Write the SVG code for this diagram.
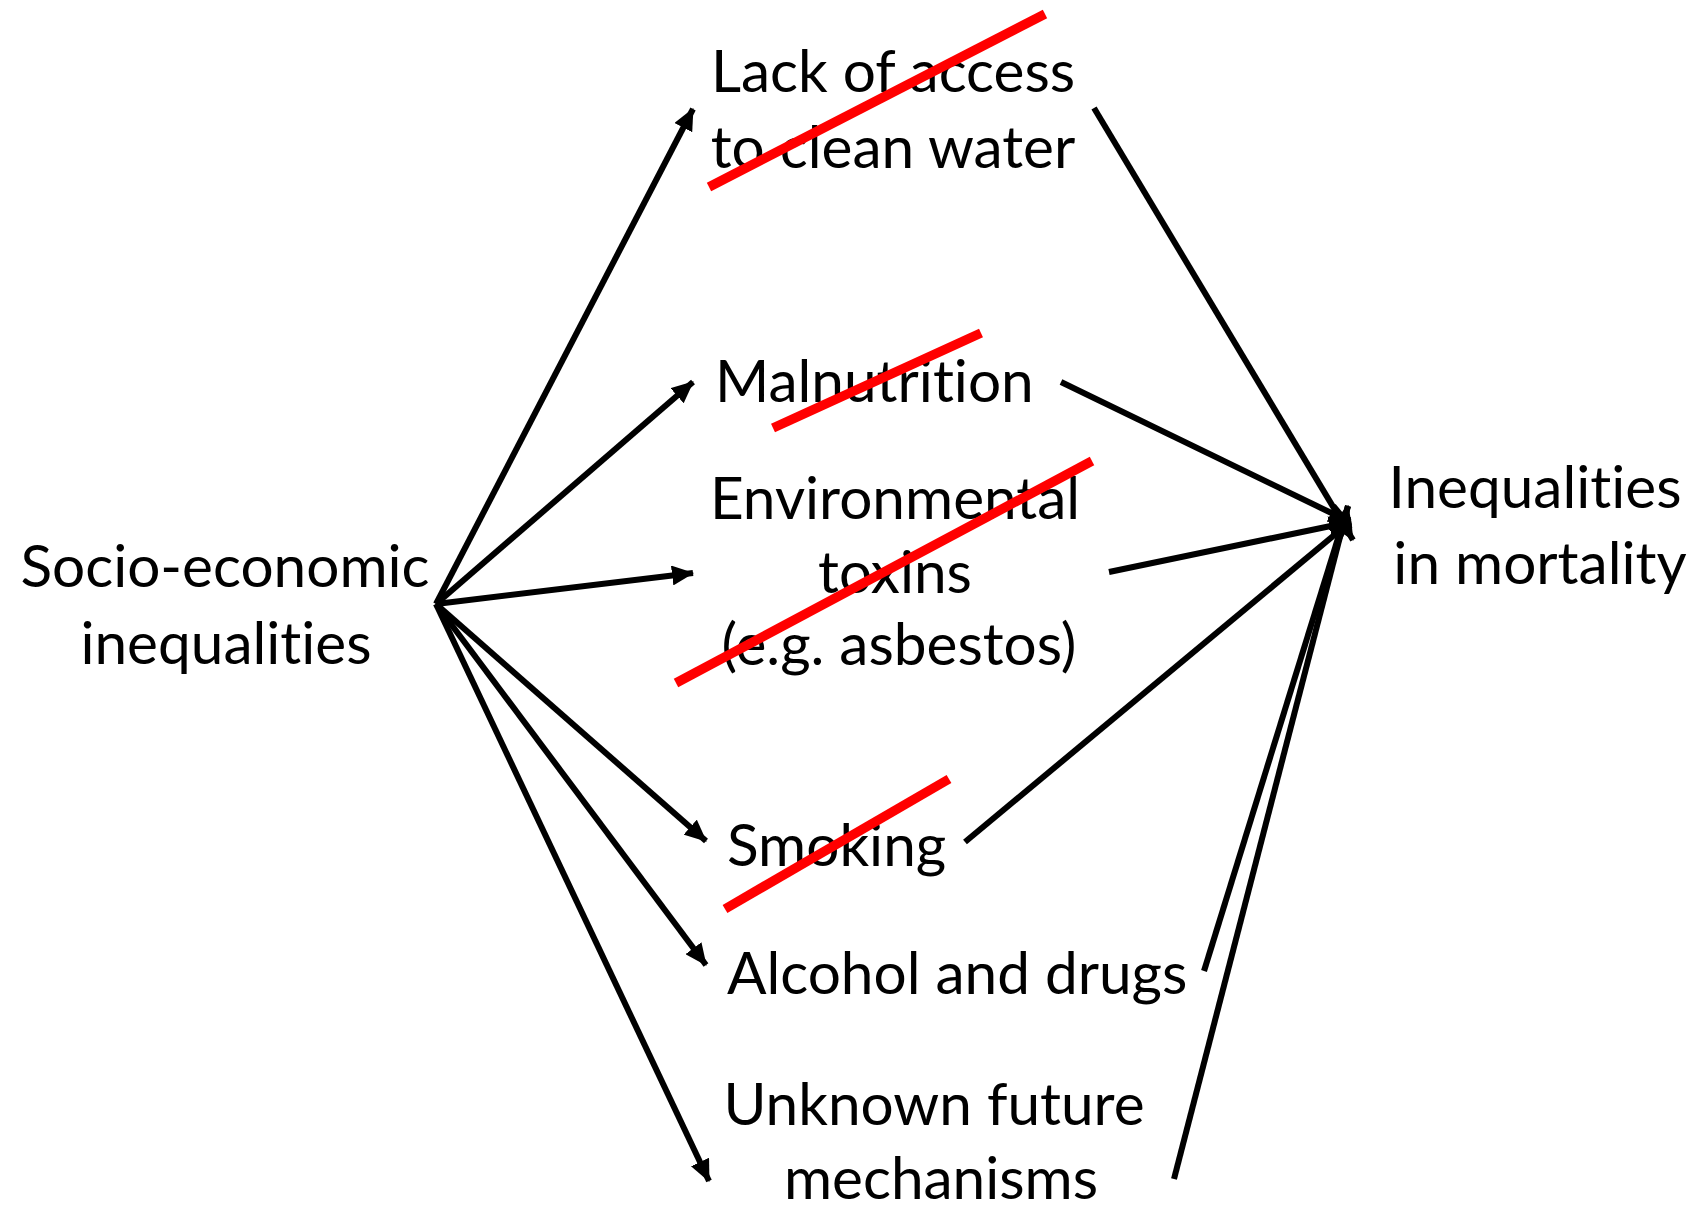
<svg xmlns="http://www.w3.org/2000/svg" width="1701" height="1209" viewBox="0 0 1701 1209">
<style>
text{font-family:Lato,"Open Sans","Liberation Sans",sans-serif;font-size:58.5px;fill:#000;font-variant-ligatures:none;font-feature-settings:"liga" 0,"clig" 0}
.c{text-anchor:middle}
.l{text-anchor:start}
.conn{stroke:#000;stroke-width:6;fill:none}
.arr{marker-end:url(#ah)}
.strike{stroke:#ff0000;stroke-width:9.5;fill:none}
</style>
<defs>
<marker id="ah" markerUnits="userSpaceOnUse" markerWidth="24" markerHeight="20" refX="21" refY="10" orient="auto">
<path d="M0,0 L22,10 L0,20 Z" fill="#000"/>
</marker>
</defs>
<rect width="1701" height="1209" fill="#fff"/>
<g id="connectors">
<line class="conn arr" x1="436" y1="604" x2="693" y2="109"/>
<line class="conn arr" x1="436" y1="604" x2="693" y2="382"/>
<line class="conn arr" x1="436" y1="604" x2="693" y2="573"/>
<line class="conn arr" x1="436" y1="604" x2="706" y2="841"/>
<line class="conn arr" x1="436" y1="604" x2="706" y2="965"/>
<line class="conn arr" x1="436" y1="604" x2="709" y2="1181"/>
<line class="conn arr" x1="1094" y1="108" x2="1353" y2="540"/>
<line class="conn arr" x1="1061" y1="382" x2="1350" y2="522"/>
<line class="conn arr" x1="1109" y1="572" x2="1350" y2="522"/>
<line class="conn arr" x1="965" y1="842" x2="1350" y2="522"/>
<line class="conn arr" x1="1204" y1="971" x2="1348" y2="506"/>
<line class="conn arr" x1="1174" y1="1179" x2="1348" y2="506"/>
</g>
<g id="socio">
<text class="c" x="225" y="587">Socio-economic</text>
<text class="c" x="226" y="664">inequalities</text>
</g>
<g id="water">
<text class="c" x="893" y="92">Lack of access</text>
<text class="c" x="893" y="168">to clean water</text>
<line class="strike" x1="709" y1="187" x2="1045" y2="14"/>
</g>
<g id="malnutrition">
<text class="l" x="715" y="402">Malnutrition</text>
<line class="strike" x1="773" y1="428" x2="981" y2="333"/>
</g>
<g id="toxins">
<text class="c" x="895" y="519">Environmental</text>
<text class="c" x="895" y="593">toxins</text>
<text class="c" x="899" y="665">(e.g. asbestos)</text>
<line class="strike" x1="676" y1="683" x2="1092" y2="461"/>
</g>
<g id="smoking">
<text class="l" x="727" y="866">Smoking</text>
<line class="strike" x1="725" y1="909" x2="949" y2="779"/>
</g>
<g id="alcohol">
<text class="l" x="727" y="994">Alcohol and drugs</text>
</g>
<g id="unknown">
<text class="c" x="934" y="1125">Unknown future</text>
<text class="c" x="941" y="1199">mechanisms</text>
</g>
<g id="mortality">
<text class="c" x="1535" y="508">Inequalities</text>
<text class="c" x="1540" y="584">in mortality</text>
</g>
</svg>
